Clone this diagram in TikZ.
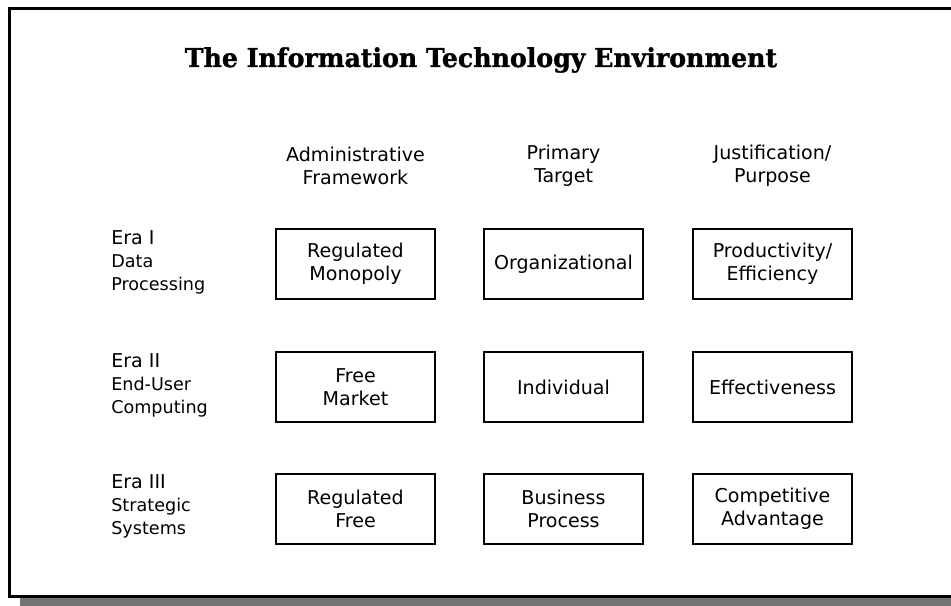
\documentclass[tikz,border=0pt]{standalone}
\usepackage{fontspec}
\setmainfont{DejaVu Sans}
\newfontfamily\slabfont[FakeStretch=0.97,FakeBold=1.2]{DejaVu Serif}

\newcommand\cellfont{\fontsize{14.3}{17.3}\selectfont}
\newcommand\erasub{\fontsize{13.2}{16.5}\selectfont}

\begin{document}
\begin{tikzpicture}[x=0.75pt,y=-0.75pt,
    every node/.style={inner sep=0pt},
    cell/.style={draw,line width=1.2pt,minimum width=119.25pt,
                 minimum height=52.5pt,align=center,font=\cellfont},
    head/.style={align=center,font=\cellfont},
    era/.style={anchor=west,align=left,font=\cellfont}]

\useasboundingbox (0,0) rectangle (951,606);

% frame and its shadow
\fill[black!55] (20,598) rectangle (960,610);
\draw[line width=2.3pt] (960,8.5) -- (9.5,8.5) -- (9.5,596.5) -- (960,596.5);

\node[anchor=base,font=\slabfont\bfseries\fontsize{19.5}{23}\selectfont] (title)
    at (481,67) {The Information Technology Environment};

% column heads
\node[head] (admin)   at (355.5,166) {Administrative\\Framework};
\node[head] (target)  at (563.5,166) {Primary\\Target};
\node[head] (purpose) at (772.5,166) {Justification/\\Purpose};

% eras
\node[era] (era1) at (111,262) {Era I\\\erasub Data\\\erasub Processing};
\node[era] (era2) at (111,385) {Era II\\\erasub End-User\\\erasub Computing};
\node[era] (era3) at (111,506) {Era III\\\erasub Strategic\\\erasub Systems};

% era I
\node[cell] (admin1)   at (355.5,264) {Regulated\\Monopoly};
\node[cell] (target1)  at (563.5,264) {Organizational};
\node[cell] (purpose1) at (772.5,264) {Productivity/\\Efficiency};

% era II
\node[cell] (admin2)   at (355.5,387) {Free\\Market};
\node[cell] (target2)  at (563.5,387) {Individual};
\node[cell] (purpose2) at (772.5,387) {Effectiveness};

% era III
\node[cell] (admin3)   at (355.5,509) {Regulated\\Free};
\node[cell] (target3)  at (563.5,509) {Business\\Process};
\node[cell] (purpose3) at (772.5,509) {Competitive\\Advantage};

\end{tikzpicture}
\end{document}
